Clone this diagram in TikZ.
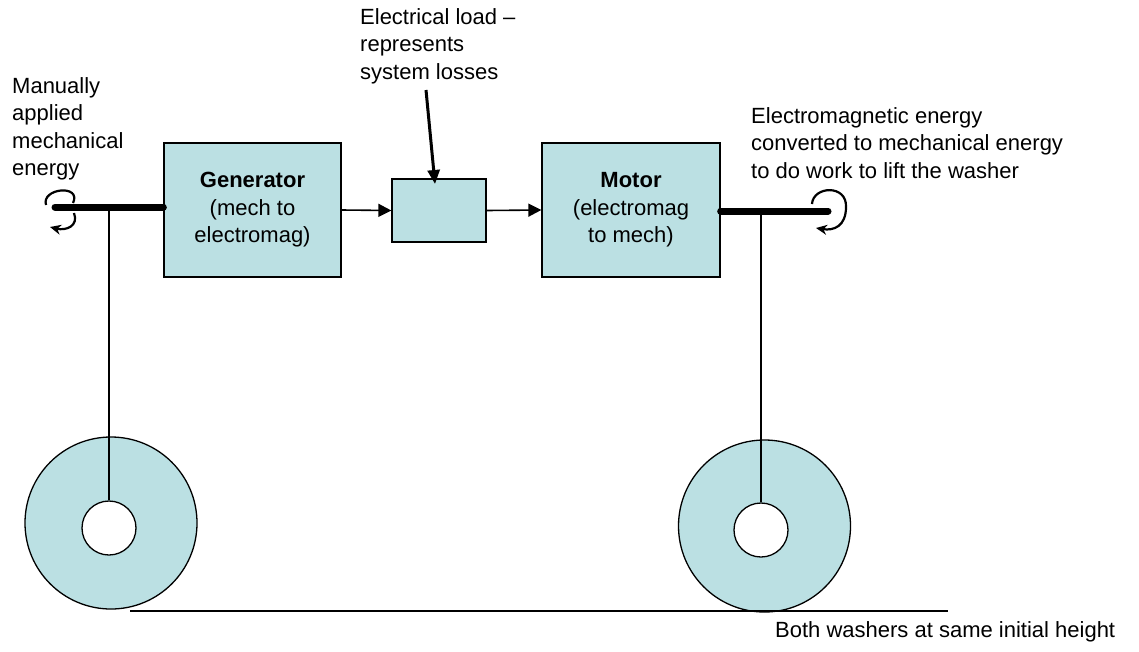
\documentclass[tikz,border=0pt]{standalone}
\usepackage{fontspec}
\setmainfont{Liberation Sans}
\usetikzlibrary{arrows.meta}
\definecolor{washblue}{RGB}{187,224,227}
\tikzset{
  lbl/.style={font=\fontsize{22}{27.5}\selectfont, inner sep=0pt, align=left, anchor=north west},
  blockbox/.style={draw=black, line width=1.3pt, fill=washblue, font=\fontsize{22}{27.5}\selectfont, align=center, inner sep=0pt},
  flow/.style={line width=1.6pt, -{Triangle[length=13pt,width=13pt]}},
  shaftline/.style={line width=7pt, line cap=round},
  rot/.style={line width=2.2pt},
  thin/.style={line width=1.2pt},
  washer/.style={circle, draw=black, line width=1.3pt, fill=washblue, minimum size=172pt, inner sep=0pt},
  hole/.style={circle, draw=black, line width=1.3pt, fill=white, minimum size=54pt, inner sep=0pt}
}
\begin{document}
\begin{tikzpicture}[x=1pt,y=-1pt]
\useasboundingbox (0,0) rectangle (1139,651);
\fill[white] (0,0) rectangle (1139,651);

% washers
\node[washer] (lw) at (111,523) {};
\node[hole] (lh) at (109,528) {};
\node[washer] (rw) at (764.5,526) {};
\node[hole] (rh) at (761,530) {};

% boxes
\node[blockbox, minimum width=177pt, minimum height=134pt] (gen) at (252.5,210) {\textbf{Generator}\\(mech to\\electromag)};
\node[blockbox, minimum width=94pt, minimum height=63pt] (load) at (439,210.5) {};
\node[blockbox, minimum width=178pt, minimum height=134pt] (mot) at (631,210) {\textbf{Motor}\\(electromag\\to mech)};

% flow arrows
\draw[flow] (gen.east) -- (load.west);
\draw[flow] (load.east) -- (mot.west);

% load label arrow
\coordinate (lt) at (426,90);
\coordinate (lhd) at (435,184);
\draw[line width=3pt, -{Triangle[length=14pt,width=12pt]}] (lt) -- (lhd);

% shafts
\coordinate (ls) at (55,207);
\coordinate (rs) at (828,211);
\draw[thin] (lh.north |- ls) -- (lh.north);
\draw[thin] (rh.north |- rs) -- (rh.north);
\draw[shaftline] (ls) -- (ls -| gen.west);
\draw[shaftline] (mot.east |- rs) -- (rs);

% rotation arrows
\coordinate (la1) at (46,205);
\coordinate (la2) at (73,203);
\coordinate (la3) at (74,213);
\coordinate (la4) at (50,227);
\draw[rot] (la1) .. controls (41,188) and (82,184) .. (la2);
\draw[rot, -{Stealth[length=11pt,width=10pt]}] (la3) .. controls (79,226) and (66,231) .. (la4);
\coordinate (ra1) at (812,204);
\coordinate (ra2) at (846,207);
\coordinate (ra3) at (816,228);
\draw[rot, -{Stealth[length=11pt,width=10pt]}] (ra1) .. controls (813,186) and (847,184) .. (ra2) .. controls (846,226) and (834,231) .. (ra3);

% ground line
\coordinate (g1) at (130,611);
\coordinate (g2) at (948,611);
\draw[thin] (g1) -- (g2);

% labels
\node[lbl] (manual) at (12,77) {Manually\\applied\\mechanical\\energy};
\node[lbl] (loadtxt) at (360,8) {Electrical load –\\represents\\system losses};
\node[lbl] (emtxt) at (751,107) {Electromagnetic energy\\converted to mechanical energy\\to do work to lift the washer};
\node[lbl] (both) at (775,621) {Both washers at same initial height};
\end{tikzpicture}
\end{document}
